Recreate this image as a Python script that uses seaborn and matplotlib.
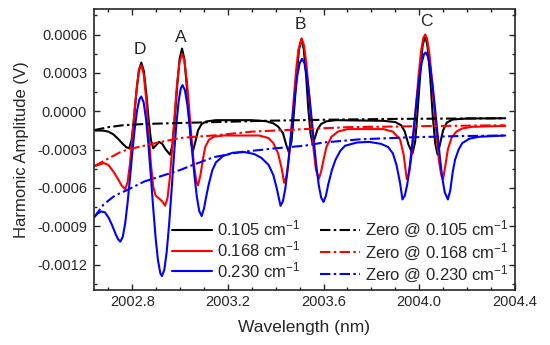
"""Harmonic amplitude spectra for three linewidths, with their zero lines."""

import matplotlib

matplotlib.use("Agg")

import matplotlib.pyplot as plt
import matplotlib.ticker as mticker
import seaborn as sns

# 0.105 cm-1 signal
black_wl = [2002.64, 2002.68, 2002.70, 2002.72, 2002.74, 2002.76, 2002.775, 2002.787, 2002.797,
            2002.807, 2002.817, 2002.827, 2002.8375, 2002.848, 2002.858, 2002.868, 2002.878,
            2002.8875, 2002.900, 2002.912, 2002.925, 2002.940, 2002.958, 2002.968, 2002.978,
            2002.988, 2002.998, 2003.008, 2003.018, 2003.028, 2003.038, 2003.046, 2003.054,
            2003.065, 2003.075, 2003.09, 2003.11, 2003.15, 2003.30, 2003.36, 2003.39, 2003.41,
            2003.43, 2003.445, 2003.455, 2003.466, 2003.476, 2003.487, 2003.497, 2003.508,
            2003.517, 2003.527, 2003.536, 2003.546, 2003.555, 2003.565, 2003.575, 2003.59,
            2003.61, 2003.65, 2003.85, 2003.90, 2003.925, 2003.94, 2003.955, 2003.972, 2003.983,
            2003.993, 2004.004, 2004.014, 2004.025, 2004.035, 2004.046, 2004.056, 2004.067,
            2004.077, 2004.088, 2004.10, 2004.115, 2004.14, 2004.20, 2004.36]
black_amp = [-0.000150, -0.000152, -0.000160, -0.000180, -0.000215, -0.000255, -0.000282, -0.000290,
             -0.000226, -0.000059, 0.000149, 0.000316, 0.000380, 0.000316, 0.000149, -0.000059,
             -0.000226, -0.000290, -0.000265, -0.000240, -0.000255, -0.000300, -0.000340, -0.000261,
             -0.000054, 0.000204, 0.000411, 0.000490, 0.000405, 0.000190, -0.000070, -0.000250,
             -0.000310, -0.000230, -0.000150, -0.000100, -0.000080, -0.000070, -0.000070, -0.000078,
             -0.000095, -0.000120, -0.000170, -0.000270, -0.000320, -0.000236, -0.000015, 0.000260,
             0.000481, 0.000565, 0.000487, 0.000280, 0.000025, -0.000182, -0.000260, -0.000200,
             -0.000140, -0.000100, -0.000080, -0.000070, -0.000075, -0.000085, -0.000110, -0.000160,
             -0.000260, -0.000330, -0.000242, -0.000011, 0.000276, 0.000507, 0.000595, 0.000506,
             0.000272, -0.000017, -0.000251, -0.000340, -0.000250, -0.000150, -0.000090, -0.000065,
             -0.000057, -0.000055]

# 0.168 cm-1 signal
red_wl = [2002.64, 2002.66, 2002.68, 2002.70, 2002.72, 2002.74, 2002.755, 2002.77, 2002.78, 2002.79,
          2002.80, 2002.81, 2002.82, 2002.83, 2002.8375, 2002.8475, 2002.8575, 2002.8675, 2002.8775,
          2002.8875, 2002.8975, 2002.91, 2002.925, 2002.937, 2002.947, 2002.957, 2002.967, 2002.977,
          2002.987, 2002.997, 2003.008, 2003.018, 2003.028, 2003.038, 2003.048, 2003.058, 2003.068,
          2003.075, 2003.085, 2003.095, 2003.105, 2003.12, 2003.14, 2003.18, 2003.33, 2003.37,
          2003.39, 2003.41, 2003.425, 2003.435, 2003.445, 2003.455, 2003.465, 2003.475, 2003.485,
          2003.495, 2003.508, 2003.518, 2003.528, 2003.538, 2003.548, 2003.558, 2003.568, 2003.58,
          2003.59, 2003.60, 2003.612, 2003.633, 2003.66, 2003.70, 2003.85, 2003.89, 2003.92,
          2003.935, 2003.948, 2003.958, 2003.968, 2003.978, 2003.988, 2003.998, 2004.008, 2004.017,
          2004.025, 2004.033, 2004.043, 2004.053, 2004.063, 2004.073, 2004.083, 2004.093, 2004.10,
          2004.11, 2004.12, 2004.135, 2004.155, 2004.18, 2004.22, 2004.36]
red_amp = [-0.000430, -0.000420, -0.000405, -0.000420, -0.000470, -0.000530, -0.000580, -0.000610,
           -0.000557, -0.000415, -0.000210, 0.000014, 0.000208, 0.000331, 0.000360, 0.000292,
           0.000105, -0.000150, -0.000405, -0.000590, -0.000660, -0.000680, -0.000705, -0.000740,
           -0.000683, -0.000522, -0.000288, -0.000027, 0.000211, 0.000380, 0.000450, 0.000394,
           0.000240, 0.000019, -0.000219, -0.000424, -0.000552, -0.000580, -0.000500, -0.000380,
           -0.000280, -0.000225, -0.000200, -0.000190, -0.000190, -0.000210, -0.000250, -0.000330,
           -0.000450, -0.000560, -0.000508, -0.000363, -0.000151, 0.000090, 0.000316, 0.000484,
           0.000570, 0.000518, 0.000373, 0.000162, -0.000076, -0.000296, -0.000456, -0.000530,
           -0.000470, -0.000380, -0.000280, -0.000200, -0.000160, -0.000140, -0.000140, -0.000160,
           -0.000220, -0.000340, -0.000530, -0.000484, -0.000352, -0.000157, 0.000070, 0.000290,
           0.000470, 0.000571, 0.000600, 0.000568, 0.000446, 0.000254, 0.000024, -0.000206,
           -0.000393, -0.000506, -0.000530, -0.000420, -0.000300, -0.000210, -0.000160, -0.000135,
           -0.000122, -0.000115]

# 0.230 cm-1 signal
blue_wl = [2002.64, 2002.655, 2002.67, 2002.685, 2002.70, 2002.715, 2002.73, 2002.74, 2002.75,
           2002.76, 2002.77, 2002.78, 2002.79, 2002.80, 2002.81, 2002.82, 2002.83, 2002.8375,
           2002.8475, 2002.8575, 2002.8675, 2002.8775, 2002.8875, 2002.8975, 2002.9075, 2002.9175,
           2002.924, 2002.934, 2002.944, 2002.954, 2002.964, 2002.974, 2002.984, 2002.994, 2003.003,
           2003.01, 2003.02, 2003.03, 2003.04, 2003.05, 2003.06, 2003.07, 2003.08, 2003.09, 2003.10,
           2003.11, 2003.12, 2003.135, 2003.15, 2003.18, 2003.22, 2003.27, 2003.31, 2003.34, 2003.37,
           2003.39, 2003.405, 2003.42, 2003.43, 2003.44, 2003.45, 2003.46, 2003.47, 2003.48, 2003.49,
           2003.50, 2003.51, 2003.52, 2003.53, 2003.54, 2003.55, 2003.56, 2003.57, 2003.58, 2003.59,
           2003.60, 2003.61, 2003.62, 2003.635, 2003.65, 2003.67, 2003.69, 2003.74, 2003.79, 2003.84,
           2003.87, 2003.89, 2003.905, 2003.92, 2003.93, 2003.94, 2003.95, 2003.96, 2003.97, 2003.98,
           2003.99, 2004.00, 2004.01, 2004.02, 2004.027, 2004.037, 2004.047, 2004.057, 2004.067,
           2004.077, 2004.087, 2004.097, 2004.107, 2004.12, 2004.13, 2004.14, 2004.15, 2004.165,
           2004.18, 2004.21, 2004.25, 2004.36]
blue_amp = [-0.000830, -0.000800, -0.000785, -0.000790, -0.000830, -0.000890, -0.000960, -0.001000,
            -0.001020, -0.000984, -0.000879, -0.000722, -0.000529, -0.000326, -0.000140, 0.000007,
            0.000095, 0.000115, 0.000069, -0.000062, -0.000262, -0.000505, -0.000758, -0.000990,
            -0.001168, -0.001270, -0.001290, -0.001240, -0.001099, -0.000885, -0.000625, -0.000353,
            -0.000108, 0.000080, 0.000180, 0.000204, 0.000165, 0.000054, -0.000112, -0.000308,
            -0.000504, -0.000670, -0.000781, -0.000820, -0.000760, -0.000660, -0.000570, -0.000460,
            -0.000400, -0.000350, -0.000325, -0.000320, -0.000335, -0.000365, -0.000420, -0.000500,
            -0.000610, -0.000740, -0.000705, -0.000605, -0.000453, -0.000265, -0.000065, 0.000123,
            0.000275, 0.000375, 0.000410, 0.000376, 0.000279, 0.000130, -0.000053, -0.000247,
            -0.000430, -0.000579, -0.000676, -0.000710, -0.000660, -0.000570, -0.000460, -0.000380,
            -0.000310, -0.000270, -0.000245, -0.000240, -0.000255, -0.000280, -0.000330, -0.000420,
            -0.000560, -0.000690, -0.000660, -0.000574, -0.000439, -0.000271, -0.000086, 0.000094,
            0.000254, 0.000375, 0.000445, 0.000460, 0.000428, 0.000334, 0.000189, 0.000010,
            -0.000183, -0.000368, -0.000525, -0.000635, -0.000690, -0.000620, -0.000480, -0.000380,
            -0.000300, -0.000250, -0.000215, -0.000200, -0.000190]

# zero-concentration baselines
zero_black_wl = [2002.64, 2002.70, 2002.76, 2002.85, 2003.0, 2003.15, 2003.35, 2003.6, 2003.9,
                 2004.2, 2004.36]
zero_black_amp = [-0.000148, -0.000125, -0.000110, -0.000100, -0.000092, -0.000085, -0.000075,
                  -0.000067, -0.000060, -0.000057, -0.000055]
zero_red_wl = [2002.64, 2002.67, 2002.70, 2002.72, 2002.75, 2002.78, 2002.85, 2002.92, 2003.0,
               2003.06, 2003.14, 2003.3, 2003.52, 2003.7, 2004.0, 2004.36]
zero_red_amp = [-0.000430, -0.000400, -0.000370, -0.000350, -0.000320, -0.000300, -0.000270,
                -0.000240, -0.000210, -0.000200, -0.000190, -0.000160, -0.000140, -0.000125,
                -0.000117, -0.000110]
zero_blue_wl = [2002.64, 2002.68, 2002.72, 2002.75, 2002.775, 2002.85, 2002.917, 2003.0, 2003.054,
                2003.14, 2003.25, 2003.4, 2003.52, 2003.6, 2003.75, 2003.95, 2004.15, 2004.36]
zero_blue_amp = [-0.000830, -0.000730, -0.000670, -0.000640, -0.000620, -0.000550, -0.000510,
                 -0.000460, -0.000420, -0.000360, -0.000320, -0.000290, -0.000270, -0.000245,
                 -0.000220, -0.000205, -0.000195, -0.000190]

peak_names = ["D", "A", "B", "C"]
peak_wl = [2002.833, 2003.004, 2003.504, 2004.03]
peak_amp = [0.00048, 0.00058, 0.00068, 0.00070]

widths = ["0.105", "0.168", "0.230"]
colors = ["black", "red", "blue"]
y_ticks = [-0.0012, -0.0009, -0.0006, -0.0003, 0.0, 0.0003, 0.0006]
x_ticks = [2002.8, 2003.2, 2003.6, 2004.0, 2004.4]

sns.set_theme(style="ticks")
plt.rcParams["font.family"] = ["Liberation Sans", "DejaVu Sans"]
plt.rcParams["mathtext.fontset"] = "custom"
plt.rcParams["mathtext.rm"] = "Liberation Sans"
plt.rcParams["mathtext.it"] = "Liberation Sans:italic"

fig = plt.figure(figsize=(5.5, 3.45), dpi=100)
ax = fig.add_axes([0.171, 0.159, 0.765, 0.815])

dashdot = (0, (5, 1.6, 1.2, 1.6))
signals = [(black_wl, black_amp), (red_wl, red_amp), (blue_wl, blue_amp)]
zeros = [(zero_black_wl, zero_black_amp), (zero_red_wl, zero_red_amp), (zero_blue_wl, zero_blue_amp)]

handles = []
for (wl, amp), w, c in zip(signals, widths, colors):
    sns.lineplot(x=wl, y=amp, color=c, lw=1.5, ax=ax)
    handles.append((ax.get_lines()[-1], f"{w} cm$^{{-1}}$"))
for (wl, amp), w, c in zip(zeros, widths, colors):
    sns.lineplot(x=wl, y=amp, color=c, lw=1.5, linestyle=dashdot, ax=ax)
    handles.append((ax.get_lines()[-1], f"Zero @ {w} cm$^{{-1}}$"))

for name, x, y in zip(peak_names, peak_wl, peak_amp):
    ax.text(x, y, name, ha="center", va="center", fontsize=12.5)

ax.set_xlim(2002.64, 2004.4)
ax.set_ylim(-0.0014, 0.0008)
ax.set_xticks(x_ticks)
ax.set_yticks(y_ticks)
ax.xaxis.set_major_formatter(mticker.FuncFormatter(lambda v, p: f"{v:.1f}"))
ax.yaxis.set_major_formatter(mticker.FuncFormatter(lambda v, p: f"{round(v, 4) + 0:.4f}"))
ax.xaxis.set_minor_locator(mticker.MultipleLocator(0.1))
ax.yaxis.set_minor_locator(mticker.MultipleLocator(0.00015))
ax.tick_params(which="both", direction="in", top=True, right=True, labelsize=10.5, width=1)
ax.tick_params(which="major", length=4)
ax.tick_params(which="minor", length=2.5)
ax.tick_params(axis="y", which="major", pad=5)
for spine in ax.spines.values():
    spine.set_linewidth(1.2)

ax.set_xlabel("Wavelength (nm)", fontsize=12.5, labelpad=8)
ax.set_ylabel("Harmonic Amplitude (V)", fontsize=12, labelpad=6)

ax.legend([h for h, _ in handles], [l for _, l in handles], ncol=2, loc="lower right",
          frameon=False, fontsize=12, handlelength=2.4, handletextpad=0.3,
          columnspacing=1.2, labelspacing=0.05, borderpad=0, borderaxespad=0,
          bbox_to_anchor=(0.985, 0.02))

fig.savefig("out.png", dpi=100)
